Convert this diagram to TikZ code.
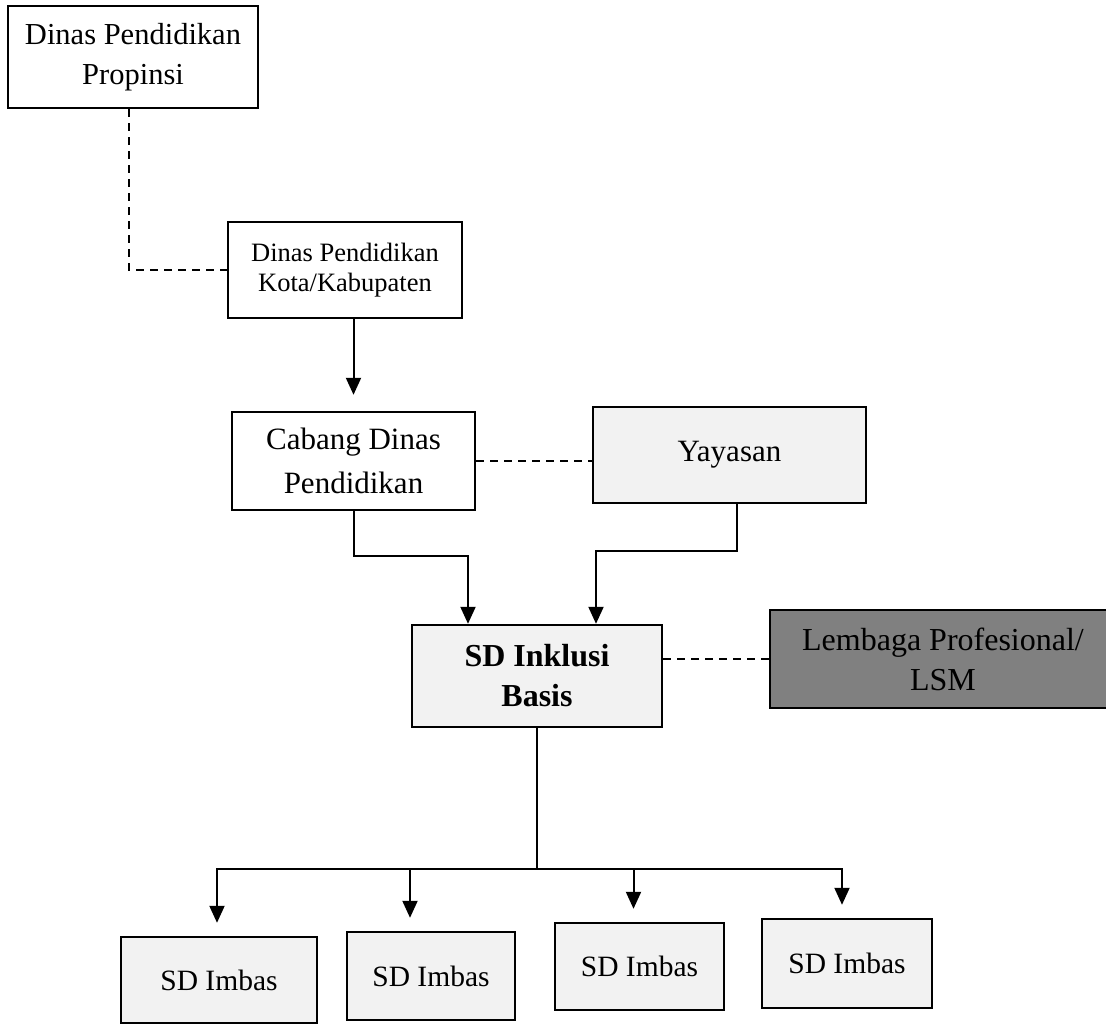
\documentclass[tikz,border=0pt]{standalone}
\usepackage{fontspec}
\setmainfont{Liberation Serif}
\usetikzlibrary{arrows.meta}
\definecolor{lsmgray}{gray}{0.5}
\definecolor{speck}{gray}{0.95}
\tikzset{
  box/.style={draw, line width=2.4pt, align=center, inner sep=0pt, fill=white},
  arrow/.style={line width=2pt, -{Triangle[length=17pt,width=15pt]}},
  link/.style={line width=1.6pt, dash pattern=on 8pt off 6pt}
}
\begin{document}
\begin{tikzpicture}[x=1pt, y=-1pt]
      \useasboundingbox (0,0) rectangle (1106,1024);
      \clip (0,0) rectangle (1106,1024);
      \node[box, minimum width=250pt, minimum height=102pt,
        font=\fontsize{30.5}{40}\selectfont] (prop) at (133,57)
        {Dinas Pendidikan\\Propinsi};
      \node[box, minimum width=234pt, minimum height=96pt,
        font=\fontsize{26.5}{30}\selectfont] (kota) at (345,270)
        {Dinas Pendidikan\\Kota/Kabupaten};
      \node[box, minimum width=243pt, minimum height=98pt,
        font=\fontsize{31}{44}\selectfont] (cab) at (353.5,461)
        {Cabang Dinas\\Pendidikan};
      \node[box, fill=speck, minimum width=273pt, minimum height=96pt,
        font=\fontsize{31}{40}\selectfont] (yay) at (729.5,455)
        {Yayasan};
      \node[box, fill=speck, minimum width=250pt, minimum height=102pt,
        font=\fontsize{32}{40}\selectfont\bfseries] (inkl) at (537,676)
        {SD Inklusi\\Basis};
      \node[box, fill=lsmgray, minimum width=346pt, minimum height=98pt,
        font=\fontsize{32}{40}\selectfont] (lsm) at (943,659)
        {Lembaga Profesional/\\LSM};
      \node[box, fill=speck, minimum width=196pt, minimum height=86pt,
        font=\fontsize{29.5}{36}\selectfont] (imbas1) at (219,980) {SD Imbas};
      \node[box, fill=speck, minimum width=168pt, minimum height=88pt,
        font=\fontsize{29.5}{36}\selectfont] (imbas2) at (431,976) {SD Imbas};
      \node[box, fill=speck, minimum width=169pt, minimum height=87pt,
        font=\fontsize{29.5}{36}\selectfont] (imbas3) at (639.5,966.5) {SD Imbas};
      \node[box, fill=speck, minimum width=170pt, minimum height=89pt,
        font=\fontsize{29.5}{36}\selectfont] (imbas4) at (847,963.5) {SD Imbas};
      % dashed coordination lines
      \draw[link] ([xshift=-4pt]prop.south) |- (kota.west);
      \draw[link] (cab.east) -- (cab.east -| yay.west);
      \draw[link] (inkl.east |- lsm.west) -- (lsm.west);
      % command lines
      \coordinate (inkA) at ([xshift=-69pt]inkl.north);
      \coordinate (inkB) at ([xshift=59pt]inkl.north);
      \draw[arrow, shorten >=16pt] (cab.north |- kota.south) -- (cab.north);
      \draw[arrow] (cab.south) -- ++(0,45) -| (inkA);
      \draw[arrow] ([xshift=7pt]yay.south) -- ++(0,47) -| (inkB);
      \draw[line width=2pt] (inkl.south) -- ++(0,141) coordinate (bus);
      \foreach \n/\dx in {1/-2,2/-21,3/-6,4/-5}
        \draw[arrow, shorten >=13pt] (bus) -| ([xshift=\dx pt]imbas\n.north);
    \end{tikzpicture}
\end{document}
